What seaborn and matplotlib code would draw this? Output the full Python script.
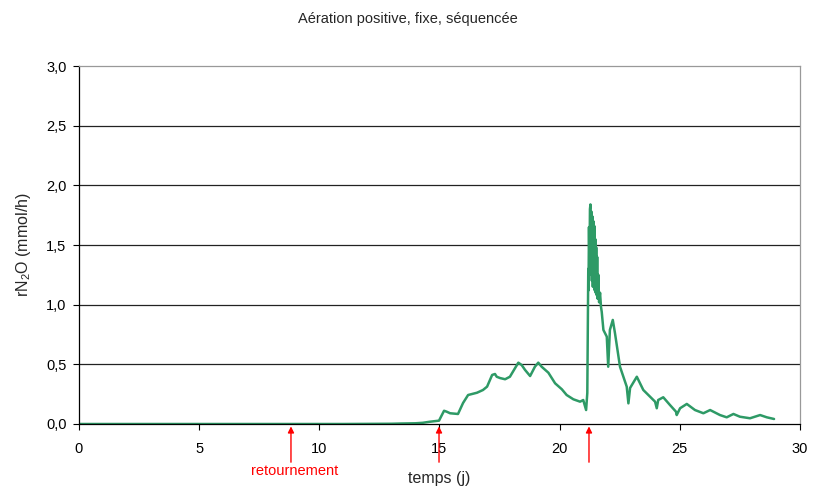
import pandas as pd
import seaborn as sns
import matplotlib.pyplot as plt

# temps (j) and rN2O (mmol/h)
time_j = [0.0, 2.0, 5.0, 8.0, 11.0, 13.0, 13.4, 14.0, 14.3, 14.6, 14.98, 15.06, 15.19,
          15.30, 15.44, 15.77, 15.98, 16.19, 16.56, 16.81, 16.98, 17.19, 17.31,
          17.38, 17.52, 17.73, 17.93, 18.14, 18.28, 18.42, 18.56, 18.77, 18.97,
          19.11, 19.25, 19.53, 19.81, 20.09, 20.29, 20.57, 20.85, 20.98, 21.10,
          21.15, 21.19, 21.20, 21.22, 21.24, 21.26, 21.28, 21.30, 21.32, 21.34,
          21.36, 21.38, 21.40, 21.42, 21.44, 21.46, 21.48, 21.50, 21.52, 21.54,
          21.56, 21.58, 21.61, 21.64, 21.68, 21.72, 21.75, 21.82, 21.96, 22.02,
          22.09, 22.21, 22.30, 22.51, 22.79, 22.86, 22.93, 23.21, 23.48, 23.83,
          23.97, 24.04, 24.10, 24.31, 24.59, 24.84, 24.87, 25.01, 25.29, 25.63,
          25.98, 26.26, 26.67, 26.95, 27.23, 27.50, 27.92, 28.34, 28.62, 28.92]
rn2o = [0.0, 0.0, 0.0, 0.0, 0.0, 0.002, 0.004, 0.006, 0.01, 0.019, 0.028, 0.06, 0.111,
        0.103, 0.090, 0.084, 0.176, 0.243, 0.262, 0.285, 0.313, 0.411, 0.419,
        0.396, 0.385, 0.375, 0.396, 0.467, 0.514, 0.494, 0.453, 0.402, 0.480,
        0.514, 0.480, 0.430, 0.341, 0.291, 0.243, 0.207, 0.187, 0.201, 0.117,
        0.260, 1.30, 1.12, 1.65, 1.30, 1.80, 1.84, 1.25, 1.78, 1.20,
        1.74, 1.15, 1.70, 1.18, 1.66, 1.12, 1.55, 1.10, 1.48, 1.08,
        1.40, 1.05, 1.25, 1.02, 1.10, 0.98, 0.94, 0.788, 0.732, 0.480,
        0.788, 0.872, 0.763, 0.480, 0.313, 0.173, 0.302, 0.396, 0.285, 0.215,
        0.187, 0.132, 0.201, 0.224, 0.159, 0.103, 0.075, 0.132, 0.168, 0.117,
        0.090, 0.117, 0.075, 0.056, 0.084, 0.061, 0.048, 0.075, 0.056, 0.042]

arrow_x = [8.82, 14.98, 21.22]
y_ticks = [0.0, 0.5, 1.0, 1.5, 2.0, 2.5, 3.0]
x_ticks = [0, 5, 10, 15, 20, 25, 30]

sns.set_style("white")
plt.rcParams['font.family'] = ['Liberation Sans', 'DejaVu Sans']
plt.rcParams['mathtext.fontset'] = 'custom'
plt.rcParams['mathtext.rm'] = 'Liberation Sans'

df = pd.DataFrame({'temps': time_j, 'rn2o': rn2o})

fig = plt.figure(figsize=(8.16, 4.9), dpi=100)
ax = fig.add_axes([0.0968, 0.1347, 0.8836, 0.7306])

sns.lineplot(data=df, x='temps', y='rn2o', color='#2e9a66', linewidth=1.8, ax=ax)

ax.set_xlim(0, 30)
ax.set_ylim(0, 3.0)
ax.set_xticks(x_ticks)
ax.set_yticks(y_ticks)
ax.set_yticklabels([f"{v:.1f}".replace('.', ',') for v in y_ticks], fontsize=10.5)
ax.set_xticklabels([str(v) for v in x_ticks], fontsize=10.5)
for v in y_ticks[1:-1]:
    ax.axhline(v, color='#222222', linewidth=0.9, zorder=1)

ax.tick_params(axis='y', direction='out', length=4, width=0.8, colors='black',
               left=True, pad=5)
ax.tick_params(axis='x', direction='out', length=4, width=0.8, colors='black',
               bottom=True, pad=9)
ax.spines['left'].set_color('black')
ax.spines['bottom'].set_color('black')
ax.spines['top'].set_color('#999999')
ax.spines['right'].set_color('#999999')
for s in ax.spines.values():
    s.set_linewidth(0.9)

ax.set_xlabel('temps (j)', fontsize=11.5, labelpad=11)
ax.set_ylabel(r'rN$\mathregular{_2}$O (mmol/h)', fontsize=11.5, labelpad=9)
fig.suptitle('Aération positive, fixe, séquencée', fontsize=10.5, y=0.975)

for xa in arrow_x:
    ax.annotate('', xy=(xa, -0.02), xytext=(xa, -0.32),
                arrowprops=dict(arrowstyle='-|>', color='red', lw=1.0,
                                mutation_scale=9, shrinkA=0, shrinkB=0),
                annotation_clip=False)
ax.text(8.99, -0.395, 'retournement', color='red', fontsize=10.5,
        ha='center', va='center', clip_on=False)

fig.savefig('out.png', dpi=100)
